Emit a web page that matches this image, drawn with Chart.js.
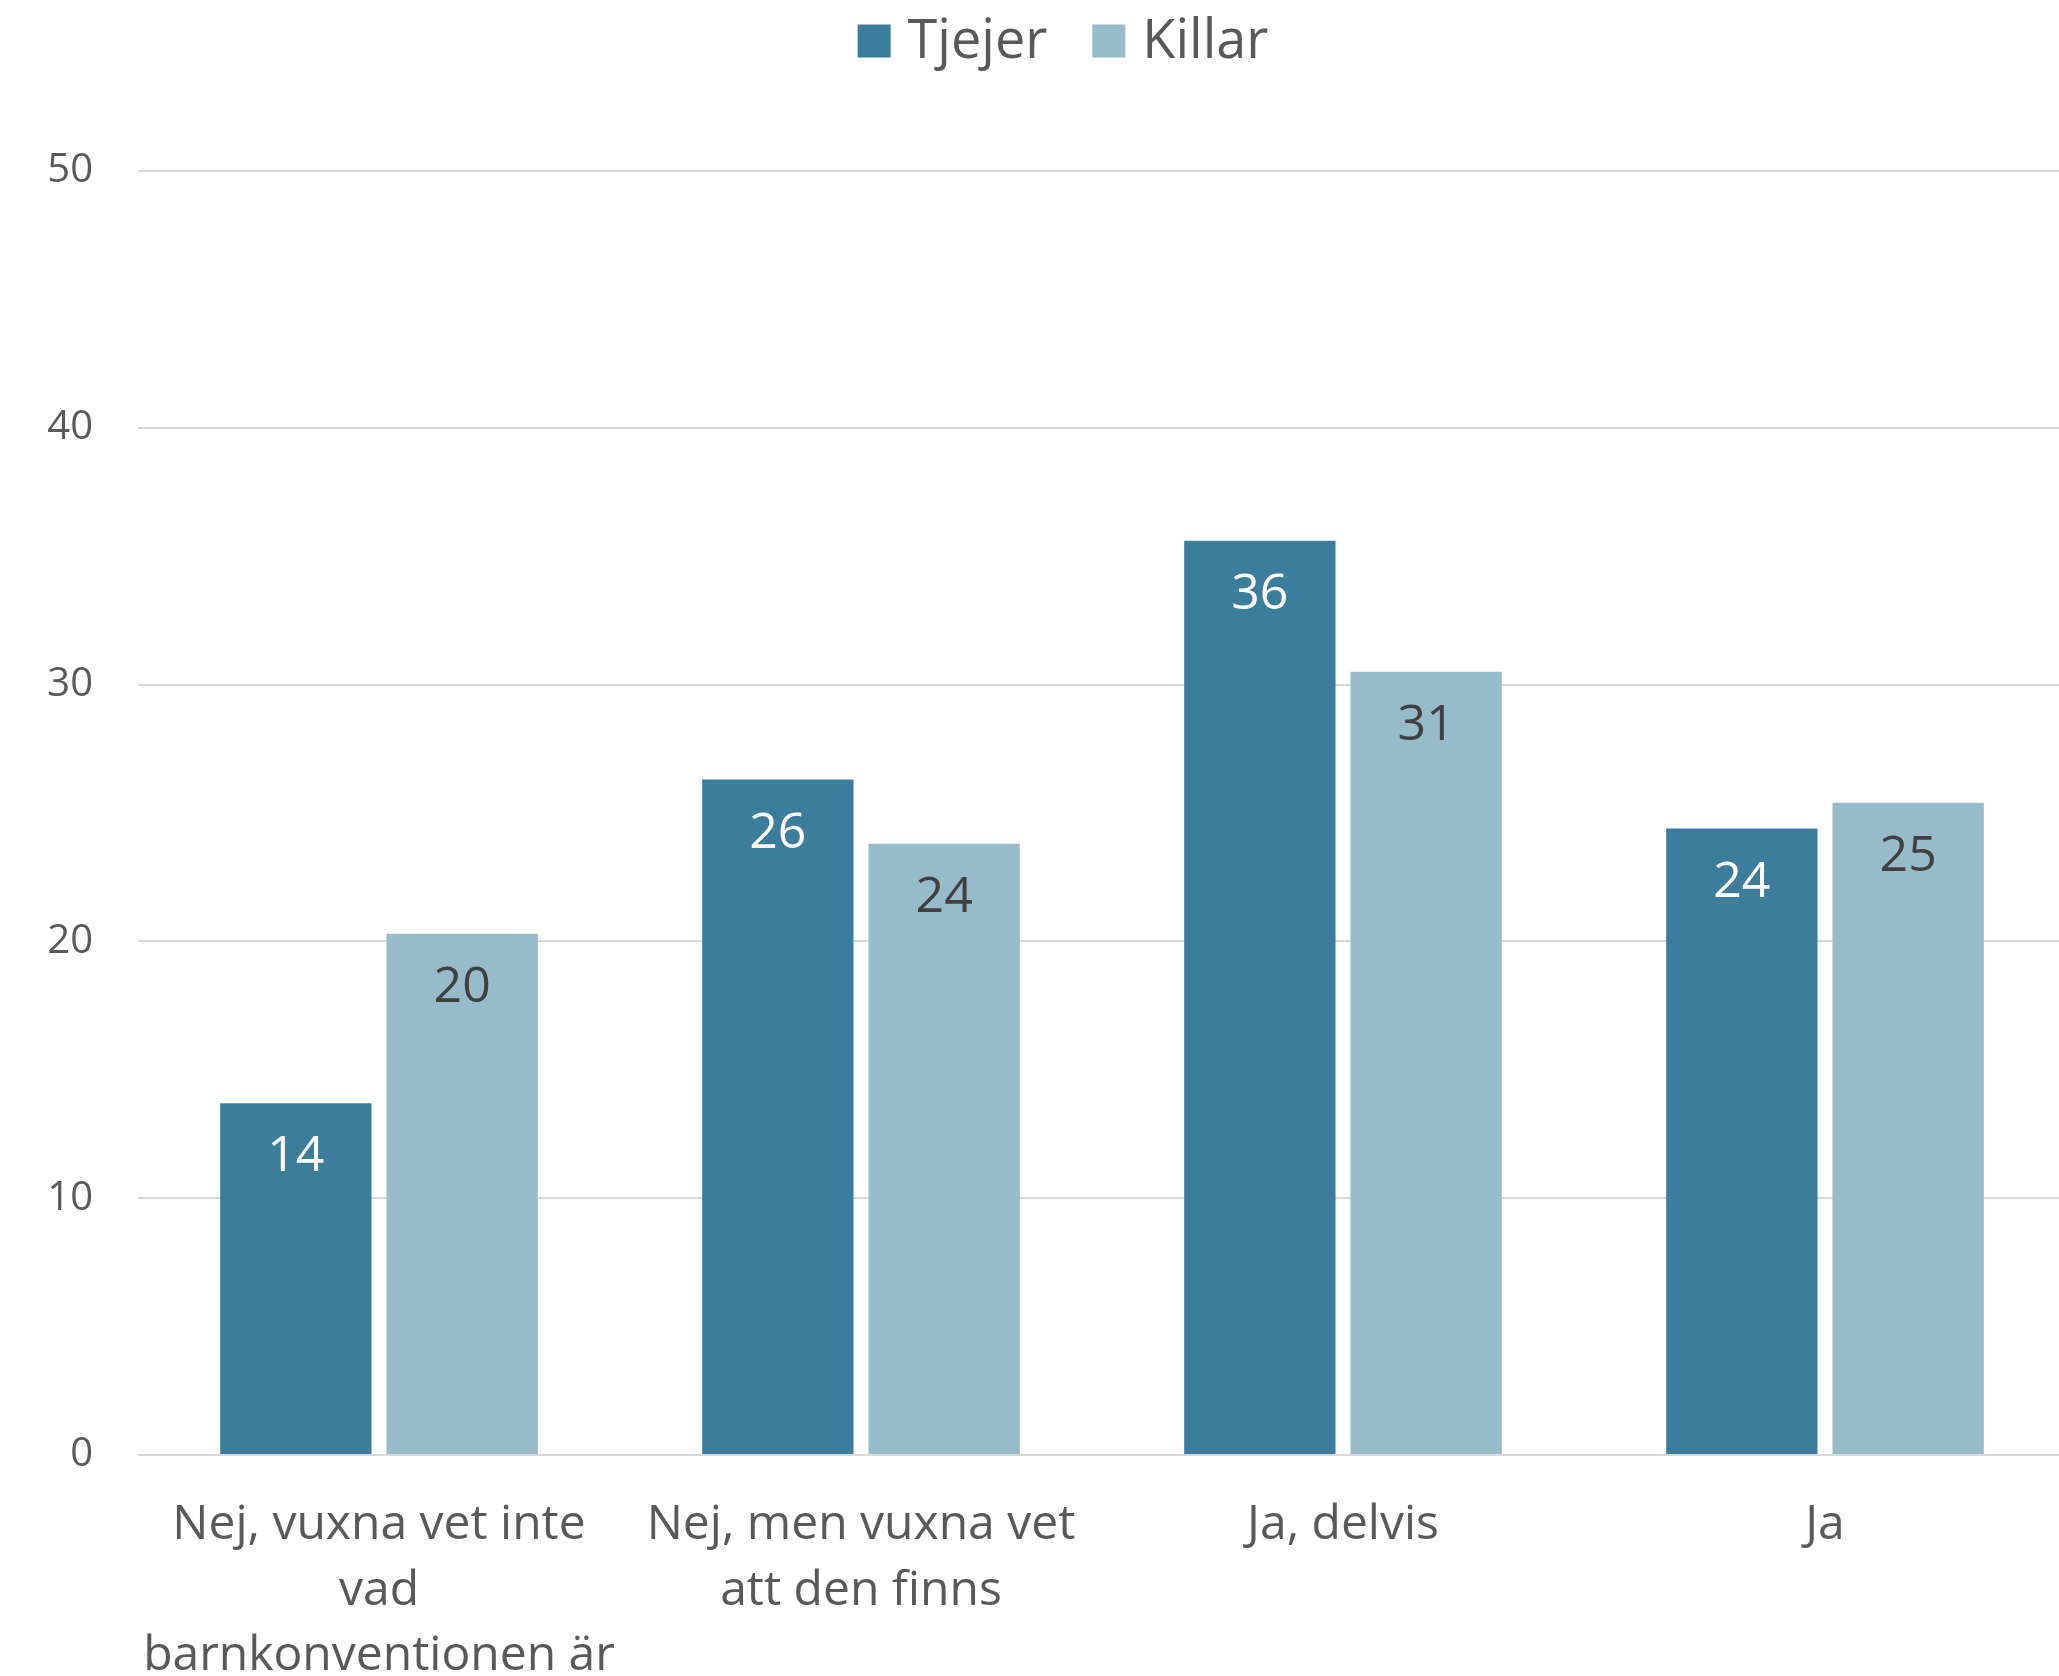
<!DOCTYPE html>
<html>
<head>
<meta charset="utf-8">
<script src="https://cdn.jsdelivr.net/npm/chart.js@4"></script>
<style>
  html, body { margin: 0; padding: 0; background: #fff; }
  /* the plot runs a few px past the right edge in the original */
  #wrap { width: 2059px; height: 1676px; overflow: hidden; }
</style>
</head>
<body>
<div id="wrap"><canvas id="chart" width="2066" height="1676"></canvas></div>
<script>
// Data
const categories = [
    ['Nej, vuxna vet inte', 'vad', 'barnkonventionen är'],
    ['Nej, men vuxna vet', 'att den finns'],
    'Ja, delvis',
    'Ja'
];
const tjejer = [13.7, 26.3, 35.6, 24.4];
const killar = [20.3, 23.8, 30.5, 25.4];
const yTicks = [0, 10, 20, 30, 40, 50];

const textGrey = '#595959';

// Hand-drawn legend so box/text gaps match the original
const topLegend = {
    id: 'topLegend',
    afterDraw(chart) {
        const ctx = chart.ctx;
        const box = 33, gap = 17, itemGap = 45, midY = 41;
        ctx.save();
        ctx.font = '54px "Open Sans"';
        ctx.textBaseline = 'middle';
        const items = chart.data.datasets.map(ds => ({
            label: ds.label, color: ds.backgroundColor, w: ctx.measureText(ds.label).width
        }));
        let total = items.reduce((s, it) => s + box + gap + it.w, 0) + itemGap * (items.length - 1);
        let x = 1063 - total / 2;
        items.forEach(it => {
            ctx.fillStyle = it.color;
            ctx.fillRect(x, midY - box / 2, box, box);
            x += box + gap;
            ctx.fillStyle = textGrey;
            ctx.fillText(it.label, x, midY + 2);
            x += it.w + itemGap;
        });
        ctx.restore();
    }
};

// Value labels inside the top of each bar
const barLabels = {
    id: 'barLabels',
    afterDatasetsDraw(chart) {
        const ctx = chart.ctx;
        chart.data.datasets.forEach((ds, i) => {
            const meta = chart.getDatasetMeta(i);
            meta.data.forEach((bar, j) => {
                ctx.save();
                ctx.font = '50px "Open Sans"';
                ctx.fillStyle = ds.labelColor;
                ctx.textAlign = 'center';
                ctx.textBaseline = 'middle';
                ctx.fillText(Math.round(ds.data[j]), bar.x, bar.y + 54);
                ctx.restore();
            });
        });
    }
};

new Chart(document.getElementById('chart'), {
    type: 'bar',
    data: {
        labels: categories,
        datasets: [
            { label: 'Tjejer', data: tjejer, backgroundColor: '#3b7d9a', labelColor: '#ffffff' },
            { label: 'Killar', data: killar, backgroundColor: '#98bbca', labelColor: '#404040' }
        ]
    },
    options: {
        responsive: false,
        animation: false,
        devicePixelRatio: 1,
        categoryPercentage: 0.69,
        barPercentage: 0.91,
        layout: { padding: { top: 171, right: 0, left: 0, bottom: 0 } },
        plugins: {
            legend: { display: false },
            tooltip: { enabled: false }
        },
        scales: {
            x: {
                grid: { display: false, drawTicks: false },
                border: { display: false },
                ticks: {
                    color: textGrey,
                    padding: 38,
                    maxRotation: 0,
                    autoSkip: false,
                    font: { family: 'Open Sans', size: 48, lineHeight: 1.36 }
                },
                afterFit(scale) { scale.height = 221; }
            },
            y: {
                min: 0,
                max: 50,
                afterBuildTicks(scale) { scale.ticks = yTicks.map(v => ({ value: v })); },
                grid: { color: '#d9d9d9', lineWidth: 2, drawTicks: false },
                border: { display: false },
                ticks: {
                    color: textGrey,
                    padding: 45,
                    font: { family: 'Open Sans', size: 40 }
                },
                afterFit(scale) { scale.width = 138; }
            }
        }
    },
    plugins: [topLegend, barLabels]
});
</script>
</body>
</html>
